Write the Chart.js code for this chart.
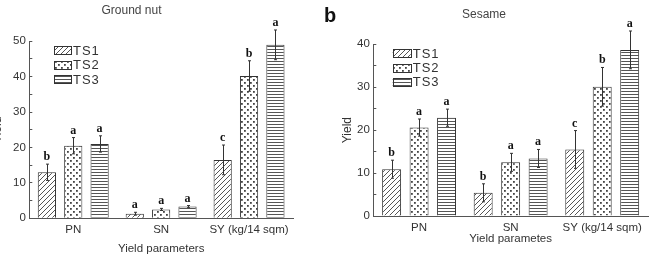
<!DOCTYPE html>
<html><head><meta charset="utf-8">
<script src="https://cdn.jsdelivr.net/npm/chart.js@4"></script>
<style>
html,body{margin:0;padding:0;background:#fff;overflow:hidden;width:652px;height:254px;}
#wrapL{position:absolute;left:-30px;top:0;width:350px;height:262px;}
#wrapR{position:absolute;left:320px;top:0;width:332px;height:254px;}
#panelB{position:absolute;left:324px;top:5px;font:bold 20px "Liberation Sans",Arial,sans-serif;line-height:20px;color:#111;}
canvas{display:block;}
</style></head><body>
<div id="wrapL"><canvas id="cL" width="350" height="262" style="width:350px;height:262px"></canvas></div>
<div id="wrapR"><canvas id="cR" width="332" height="254" style="width:332px;height:254px"></canvas></div>
<div id="panelB">b</div>
<script>
// ---- data ----
const categories = ['PN', 'SN', 'SY (kg/14 sqm)'];
const seriesNames = ['TS1', 'TS2', 'TS3'];

const groundnutTS1 = [13.0, 1.3, 16.5];
const groundnutTS2 = [20.5, 2.5, 40.2];
const groundnutTS3 = [21.0, 3.3, 49.0];
const groundnutErrTS1 = [2.3, 0.4, 4.2];
const groundnutErrTS2 = [2.3, 0.3, 4.3];
const groundnutErrTS3 = [2.3, 0.3, 4.2];
const groundnutLetTS1 = ['b', 'a', 'c'];
const groundnutLetTS2 = ['a', 'a', 'b'];
const groundnutLetTS3 = ['a', 'a', 'a'];

const sesameTS1 = [10.9, 5.4, 15.5];
const sesameTS2 = [20.6, 12.5, 30.1];
const sesameTS3 = [22.9, 13.4, 38.7];
const sesameErrTS1 = [2.1, 2.1, 4.4];
const sesameErrTS2 = [2.0, 2.1, 4.5];
const sesameErrTS3 = [2.0, 2.1, 4.4];
const sesameLetTS1 = ['b', 'b', 'c'];
const sesameLetTS2 = ['a', 'a', 'b'];
const sesameLetTS3 = ['a', 'a', 'a'];

const groundnutTicks = [0, 10, 20, 30, 40, 50];
const sesameTicks = [0, 10, 20, 30, 40];

// ---- patterns ----
function makeTile(w, h, draw) {
  const c = document.createElement('canvas');
  c.width = w; c.height = h;
  const g = c.getContext('2d');
  g.fillStyle = '#fff'; g.fillRect(0, 0, w, h);
  draw(g, w, h);
  return document.createElement('canvas').getContext('2d').createPattern(c, 'repeat');
}
const hatchPattern = makeTile(5, 5, (g, w, h) => {
  g.strokeStyle = '#555'; g.lineWidth = 1;
  g.beginPath();
  g.moveTo(0, h); g.lineTo(w, 0);
  g.moveTo(-1, 1); g.lineTo(1, -1);
  g.moveTo(w - 1, h + 1); g.lineTo(w + 1, h - 1);
  g.stroke();
});
const dotPattern = makeTile(6, 6, (g) => {
  g.fillStyle = '#444';
  g.fillRect(1, 1, 1.8, 1.8);
  g.fillRect(4, 4, 1.8, 1.8);
});
const linePattern = makeTile(3, 3, (g) => {
  g.fillStyle = '#555';
  g.fillRect(0, 1, 3, 1);
});
const patterns = [hatchPattern, dotPattern, linePattern];

// ---- plugins ----
const errorBarPlugin = {
  id: 'errbars',
  afterDatasetsDraw(chart) {
    const ctx = chart.ctx; const y = chart.scales.y;
    chart.data.datasets.forEach((ds, i) => {
      const meta = chart.getDatasetMeta(i);
      meta.data.forEach((bar, j) => {
        const v = ds.data[j], e = ds.errors[j];
        const yTop = y.getPixelForValue(v + e), yBot = y.getPixelForValue(v - e);
        const x = Math.round(bar.x) + 0.5;
        ctx.save();
        ctx.strokeStyle = '#333'; ctx.lineWidth = 1;
        ctx.beginPath();
        ctx.moveTo(x, yTop); ctx.lineTo(x, yBot);
        ctx.moveTo(x - 1.5, yTop); ctx.lineTo(x + 1.5, yTop);
        ctx.moveTo(x - 1.5, yBot); ctx.lineTo(x + 1.5, yBot);
        ctx.stroke();
        ctx.font = 'bold 12px "Liberation Serif", "Times New Roman", serif';
        ctx.textAlign = 'center'; ctx.textBaseline = 'alphabetic';
        ctx.fillStyle = '#111';
        ctx.fillText(ds.letters[j], bar.x, yTop - 4);
        ctx.restore();
      });
    });
  }
};
const patternLegend = {
  id: 'patternLegend',
  afterDraw(chart, args, o) {
    const { ctx, chartArea } = chart;
    chart.data.datasets.forEach((ds, i) => {
      const cy = chartArea.top + o.dy + i * o.rowH;
      const x = chartArea.left + o.dx;
      const top = Math.round(cy - o.boxH / 2);
      ctx.save();
      ctx.fillStyle = ds.backgroundColor;
      ctx.fillRect(x, top, o.boxW, o.boxH);
      ctx.strokeStyle = '#333'; ctx.lineWidth = 1;
      ctx.strokeRect(Math.round(x) + 0.5, top + 0.5, o.boxW, o.boxH);
      ctx.font = '13px "Liberation Sans", Arial, sans-serif';
      ctx.letterSpacing = '1px';
      ctx.fillStyle = '#333'; ctx.textBaseline = 'middle'; ctx.textAlign = 'left';
      ctx.fillText(ds.label, x + o.boxW + 2, cy + 1);
      ctx.restore();
    });
  }
};

Chart.defaults.font.family = '"Liberation Sans", Arial, sans-serif';
Chart.defaults.color = '#333';

function makeChart(canvas, p) {
  const datasets = p.series.map((vals, i) => ({
    label: seriesNames[i],
    data: vals,
    errors: p.errors[i],
    letters: p.letters[i],
    backgroundColor: patterns[i],
    borderColor: '#333',
    borderWidth: 1,
    categoryPercentage: 0.9,
    barPercentage: 0.69
  }));
  return new Chart(canvas, {
    type: 'bar',
    data: { labels: categories, datasets },
    plugins: [errorBarPlugin, patternLegend],
    options: {
      responsive: false,
      animation: false,
      layout: { padding: { left: 0, right: p.padRight, top: 0, bottom: 0 } },
      plugins: {
        legend: { display: false },
        tooltip: { enabled: false },
        title: {
          display: true, text: p.title, color: '#444',
          font: { size: 12, weight: 'normal' },
          padding: { top: p.titleTop, bottom: p.titleBottom }
        },
        patternLegend: p.legend
      },
      scales: {
        x: {
          grid: { display: false, drawTicks: false },
          border: { display: true, color: '#555', width: 1 },
          ticks: { font: { size: 11.5 }, color: '#333', padding: 5, maxRotation: 0, autoSkip: false },
          title: { display: true, text: p.xTitle, color: '#333', font: { size: 11.5 }, padding: { top: 0, bottom: p.xTitlePad } },
          afterFit(s) { s.height = p.xHeight; }
        },
        y: {
          min: 0, max: p.max,
          grid: { display: true, drawOnChartArea: false, drawTicks: true, tickLength: -3, tickColor: '#555' },
          border: { display: true, color: '#555', width: 1 },
          ticks: {
            stepSize: 5, autoSkip: false, font: { size: 11.5 }, color: '#333', padding: 6.5,
            callback: (v) => p.ticks.includes(v) ? String(v) : ''
          },
          title: { display: true, text: 'Yield', color: '#333', font: { size: 12 }, padding: { top: p.yTitlePad, bottom: 0 } },
          afterFit(s) { s.width = p.yWidth; }
        }
      }
    }
  });
}

makeChart(document.getElementById('cL'), {
  title: 'Ground nut', xTitle: 'Yield parameters', max: 50, ticks: groundnutTicks,
  series: [groundnutTS1, groundnutTS2, groundnutTS3],
  errors: [groundnutErrTS1, groundnutErrTS2, groundnutErrTS3],
  letters: [groundnutLetTS1, groundnutLetTS2, groundnutLetTS3],
  padRight: 27, yWidth: 59.3, xHeight: 43.7, xTitlePad: 5.9, yTitlePad: 20.2,
  titleTop: 3.3, titleBottom: 23.6,
  legend: { dx: 24.7, dy: 8.7, rowH: 14.5, boxW: 17, boxH: 8 }
});
makeChart(document.getElementById('cR'), {
  title: 'Sesame', xTitle: 'Yield parametes', max: 40, ticks: sesameTicks,
  series: [sesameTS1, sesameTS2, sesameTS3],
  errors: [sesameErrTS1, sesameErrTS2, sesameErrTS3],
  letters: [sesameLetTS1, sesameLetTS2, sesameLetTS3],
  padRight: 4, yWidth: 53.3, xHeight: 38, xTitlePad: 8, yTitlePad: 20.8,
  titleTop: 7.8, titleBottom: 22.1,
  legend: { dx: 19.4, dy: 9, rowH: 14.2, boxW: 18, boxH: 8 }
});
</script>
</body></html>
